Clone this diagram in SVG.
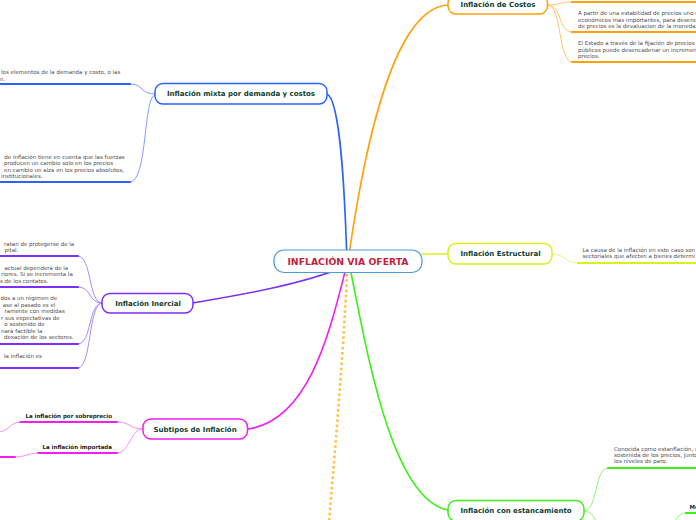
<svg xmlns="http://www.w3.org/2000/svg" width="696" height="520" viewBox="0 0 696 520">
<style>
.node{fill:#ffffff;stroke-width:1.5}
.lbl{font-family:"DejaVu Sans",Verdana,sans-serif;font-weight:bold;font-size:7px;fill:#0d3d30;text-anchor:middle}
.sub{font-family:"DejaVu Sans",Verdana,sans-serif;font-weight:bold;font-size:5.5px;fill:#222222}
.txt{font-family:"DejaVu Sans",Verdana,sans-serif;font-size:5.5px;fill:#4d4d4d}
.c{fill:none;stroke-linecap:round}
.main{stroke-width:1.6}
.thin{stroke-width:1}
.ul{stroke-width:2}
</style>
<rect width="696" height="520" fill="#ffffff"/>
<g id="connectors">
  <!-- main branches -->
  <path class="c main" stroke="#2962ff" d="M347,262 C345,200 341,100 327,94"/>
  <path class="c main" stroke="#ffa10a" d="M348,262 C365,140 395,8 448,5"/>
  <path class="c main" stroke="#d7f21b" d="M422,254 L448,254"/>
  <path class="c main" stroke="#7b2ff7" d="M347,266 C300,285 240,295 193,303"/>
  <path class="c main" stroke="#f01ef0" d="M346,268 C330,330 310,420 248,429"/>
  <path class="c main" stroke="#3cf016" d="M350,268 C365,340 390,500 448,510"/>
  <path fill="none" stroke="#ffc34d" stroke-width="2.6" stroke-dasharray="2.6,2.6" d="M347,274 C343,360 335,450 329,522"/>
  <!-- mixta children -->
  <path class="c thin" stroke="#7f9cff" d="M155,94 C140,94 144,84 130,84"/>
  <path class="c thin" stroke="#7f9cff" d="M155,95 C143,95 148,182 130,182"/>
  <path class="c ul" stroke="#2962ff" d="M0,84 L130,84"/>
  <path class="c ul" stroke="#2962ff" d="M0,182 L130,182"/>
  <!-- costos children -->
  <path class="c thin" stroke="#ffc766" d="M548,5 C560,5 560,2 572,2"/>
  <path class="c thin" stroke="#ffc766" d="M548,5 C562,5 558,32 572,32"/>
  <path class="c thin" stroke="#ffc766" d="M548,5 C562,5 558,62 572,62"/>
  <path class="c ul" stroke="#ffa10a" d="M572,2 L697,2"/>
  <path class="c ul" stroke="#ffa10a" d="M572,32 L697,32"/>
  <path class="c ul" stroke="#ffa10a" d="M572,62 L697,62"/>
  <!-- estructural child -->
  <path class="c thin" stroke="#e8f77a" d="M552,254 C566,254 564,263 578,263"/>
  <path class="c ul" stroke="#d7f21b" d="M578,263 L697,263"/>
  <!-- inercial children -->
  <path class="c thin" stroke="#a98bff" d="M102,303 C88,303 92,256 78,256"/>
  <path class="c thin" stroke="#a98bff" d="M102,303 C88,303 92,287 78,287"/>
  <path class="c thin" stroke="#a98bff" d="M102,303 C88,303 92,344 78,344"/>
  <path class="c thin" stroke="#a98bff" d="M102,303 C88,303 92,368 78,368"/>
  <path class="c ul" stroke="#7b2ff7" d="M0,256 L78,256"/>
  <path class="c ul" stroke="#7b2ff7" d="M0,287 L78,287"/>
  <path class="c ul" stroke="#7b2ff7" d="M0,344 L78,344"/>
  <path class="c ul" stroke="#7b2ff7" d="M0,368 L78,368"/>
  <!-- subtipos children -->
  <path class="c thin" stroke="#f58cf5" d="M143,429 C130,429 130,422 117,422"/>
  <path class="c thin" stroke="#f58cf5" d="M143,429 C130,429 130,453 117,453"/>
  <path class="c ul" stroke="#f01ef0" d="M20,422 L117,422"/>
  <path class="c ul" stroke="#f01ef0" d="M38,453 L117,453"/>
  <path class="c thin" stroke="#f58cf5" d="M20,422 C10,422 9,432 -2,432"/>
  <path class="c thin" stroke="#f58cf5" d="M38,453 C28,453 26,457 15,457"/>
  <path class="c ul" stroke="#f01ef0" d="M-1,457 L15,457"/>
  <!-- estancamiento children -->
  <path class="c thin" stroke="#8cf76e" d="M584,511 C598,511 594,468 608,468"/>
  <path class="c ul" stroke="#3cf016" d="M608,468 L697,468"/>
  <path class="c thin" stroke="#8cf76e" d="M584,511 C592,511 594,518 598,524"/>
  <path class="c thin" stroke="#8cf76e" d="M674,522 C679,515 681,513 686,513"/>
  <path class="c ul" stroke="#3cf016" d="M686,513 L697,513"/>
</g>
<g id="node-center">
  <rect x="274" y="250" width="148" height="22.5" rx="10" fill="#ffffff" stroke="#4c9bd6" stroke-width="1.2"/>
  <text x="348" y="264.6" font-family="'DejaVu Sans',Verdana,sans-serif" font-weight="bold" font-size="9.3" fill="#c41e3a" text-anchor="middle">INFLACIÓN VIA OFERTA</text>
</g>
<g id="node-mixta">
  <rect class="node" x="155" y="83.5" width="172" height="20.5" rx="8" stroke="#2962ff"/>
  <text class="lbl" x="241" y="96.3">Inflación mixta por demanda y costos</text>
  <text class="txt"><tspan x="1" y="74.4">los elementos de la demanda y costo, o las</tspan><tspan x="0" y="80.6">n.</tspan></text>
  <text class="txt"><tspan x="4.3" y="159">de inflación tiene en cuenta que las fuerzas</tspan><tspan x="4" y="165.3">producen un cambio solo en los precios</tspan><tspan x="4" y="171.6">en cambio un alza en los precios absolutos,</tspan><tspan x="1" y="177.9">institucionales.</tspan></text>
</g>
<g id="node-costos">
  <rect class="node" x="448" y="-5" width="99.5" height="19" rx="8" stroke="#ffa10a"/>
  <text class="lbl" x="498" y="7.4">Inflación de Costos</text>
  <text class="txt"><tspan x="578" y="15.2">A partir de una estabilidad de precios uno d</tspan><tspan x="578" y="21.5">económicos mas importantes, para desenc</tspan><tspan x="578" y="27.8">de precios es la devaluacion de la moneda</tspan></text>
  <text class="txt"><tspan x="578" y="45.4">El Estado a través de la fijación de precios</tspan><tspan x="578" y="51.7">públicos puede desencadenar un incremen</tspan><tspan x="578" y="58">precios.</tspan></text>
</g>
<g id="node-estructural">
  <rect class="node" x="448" y="243.5" width="104" height="20.5" rx="8" stroke="#d7f21b"/>
  <text class="lbl" x="500.5" y="256.3">Inflación Estructural</text>
  <text class="txt"><tspan x="582.5" y="251.7">La causa de la inflación en este caso son</tspan><tspan x="582.5" y="257.9">sectoriales que afecten a bienes determi</tspan></text>
</g>
<g id="node-inercial">
  <rect class="node" x="102" y="293.5" width="91" height="19.5" rx="8" stroke="#7b2ff7"/>
  <text class="lbl" x="148" y="305.6">Inflación Inercial</text>
  <text class="txt"><tspan x="4" y="245.6">ratan de protegerse de la</tspan><tspan x="4.5" y="251.8">pital.</tspan></text>
  <text class="txt"><tspan x="4.5" y="270">actual dependerá de la</tspan><tspan x="1" y="276.3">riores. Si se incrementa la</tspan><tspan x="0" y="282.6">s de los contatos.</tspan></text>
  <text class="txt"><tspan x="0.5" y="300.1">dos a un régimen de</tspan><tspan x="2.7" y="306.6">ase al pasado es el</tspan><tspan x="4.5" y="313.1">ramente con medidas</tspan><tspan x="1" y="319.6">r sus expectativas de</tspan><tspan x="4.3" y="326.1">o sostenido de</tspan><tspan x="1" y="332.6">nará factible la</tspan><tspan x="4" y="339.1">dexación de los sectores.</tspan></text>
  <text class="txt" x="4" y="358">la inflación es</text>
</g>
<g id="node-subtipos">
  <rect class="node" x="143" y="419" width="104.5" height="20" rx="8" stroke="#f01ef0"/>
  <text class="lbl" x="195" y="431.5">Subtipos de Inflación</text>
  <text class="sub" x="112" y="417.6" text-anchor="end">La inflación por sobreprecio</text>
  <text class="sub" x="112" y="448.6" text-anchor="end">La inflación importada</text>
</g>
<g id="node-estancamiento">
  <rect class="node" x="448" y="500.5" width="136" height="20.5" rx="8" stroke="#3cf016"/>
  <text class="lbl" x="516" y="513.2">Inflación con estancamiento</text>
  <text class="txt"><tspan x="614" y="450.8">Conocida como estanflación, s</tspan><tspan x="614" y="457.1">sostenida de los precios, junto</tspan><tspan x="614" y="463.4">los niveles de paro.</tspan></text>
  <text class="sub" x="689.5" y="509">Mo</text>
</g>
</svg>
